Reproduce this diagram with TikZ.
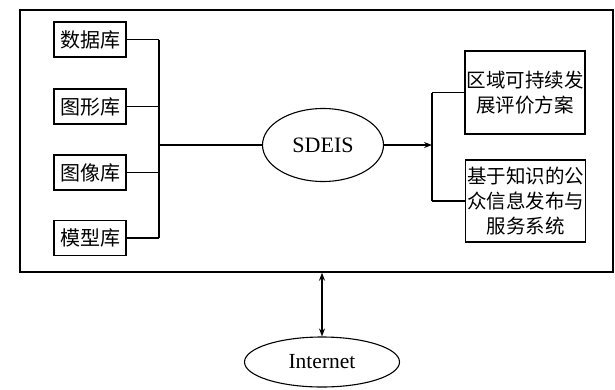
\documentclass[tikz,border=0pt]{standalone}
\usepackage{fontspec}
\setmainfont{Liberation Serif}
\newfontfamily\cjk{Noto Sans CJK SC}
\usetikzlibrary{shapes.geometric,arrows.meta}
\begin{document}
\begin{tikzpicture}[x=1pt,y=-1pt,
  line width=1.1pt,
  lbox/.style={draw,minimum width=72pt,minimum height=35pt,inner sep=0pt,font=\cjk\fontsize{20}{22}\selectfont},
  rbox/.style={draw,minimum width=120pt,inner sep=0pt,align=center,font=\cjk\fontsize{19.5}{25}\selectfont},
  oval/.style={draw,ellipse,inner sep=0pt},
  tip/.style={-{Stealth[length=8pt,width=6pt]}},
  dtip/.style={{Stealth[length=8pt,width=6pt]}-{Stealth[length=8pt,width=6pt]}}]
\useasboundingbox (0,0) rectangle (615,389);
\node[draw,line width=1.4pt,minimum width=593pt,minimum height=262pt,inner sep=0pt] (sys) at (316.5,141) {};
\node[lbox] (db) at (90,39.5) {数据库};
\node[lbox] (tx) at (90,106.5) {图形库};
\node[lbox] (tk) at (90,172.5) {图像库};
\node[lbox] (mx) at (90,238) {模型库};
\node[oval,minimum width=121pt,minimum height=73pt,font=\fontsize{22}{24}\selectfont] (sdeis) at (323,145) {SDEIS};
\node[rbox,minimum height=83pt] (r1) at (525,92.5) {区域可持续发\\展评价方案};
\node[rbox,minimum height=82pt] (r2) at (525.5,201) {基于知识的公\\众信息发布与\\服务系统};
\node[oval,minimum width=155pt,minimum height=50pt,font=\fontsize{21.5}{24}\selectfont] (inet) at (322,362) {Internet};
\coordinate (bx) at (159,0);
\coordinate (rx) at (432,0);
\foreach \b in {db,tx,tk,mx} \draw (\b.east) -- (\b.east -| bx);
\draw (db.east -| bx) -- (mx.east -| bx);
\draw (sdeis.west) -- (sdeis.west -| bx);
\draw[tip] (sdeis.east) -- (sdeis.east -| rx);
\draw (r1.west -| rx) -- (r2.west -| rx);
\draw (r1.west -| rx) -- (r1.west);
\draw (r2.west -| rx) -- (r2.west);
\draw[dtip] (sys.south -| inet.north) -- (inet.north);
\end{tikzpicture}
\end{document}
